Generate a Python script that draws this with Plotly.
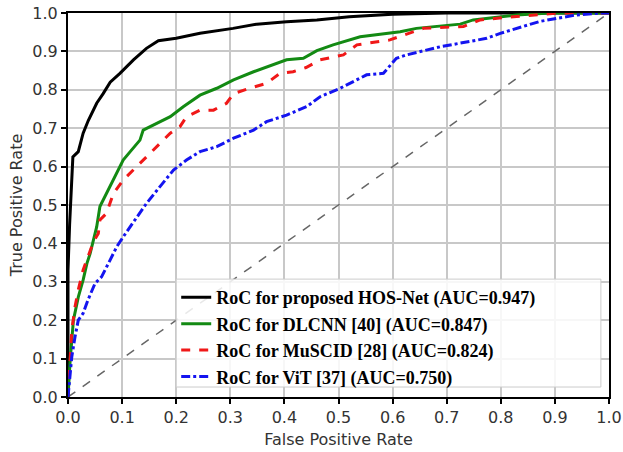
import plotly.graph_objects as go

# HOS-Net (proposed)
hos_fpr = [0, 0, 0.003, 0.006, 0.009, 0.019, 0.028, 0.0375, 0.053, 0.065, 0.078, 0.096, 0.121, 0.145, 0.167, 0.2, 0.244, 0.305, 0.349, 0.404, 0.46, 0.52, 0.6, 0.7, 1.0]
hos_tpr = [0, 0.33, 0.45, 0.55, 0.625, 0.639, 0.687, 0.72, 0.765, 0.79, 0.82, 0.843, 0.878, 0.908, 0.928, 0.934, 0.947, 0.96, 0.971, 0.977, 0.982, 0.99, 0.997, 1.0, 1.0]

# DLCNN [40]
dl_fpr = [0, 0.004, 0.01, 0.019, 0.028, 0.035, 0.041, 0.047, 0.053, 0.059, 0.078, 0.09, 0.102, 0.115, 0.133, 0.139, 0.164, 0.189, 0.213, 0.244, 0.275, 0.306, 0.343, 0.367, 0.404, 0.435, 0.46, 0.49, 0.54, 0.614, 0.644, 0.725, 0.749, 0.829, 0.891, 1.0]
dl_tpr = [0, 0.096, 0.2, 0.26, 0.305, 0.348, 0.374, 0.409, 0.443, 0.496, 0.548, 0.583, 0.617, 0.639, 0.669, 0.695, 0.713, 0.73, 0.756, 0.786, 0.804, 0.826, 0.847, 0.86, 0.878, 0.882, 0.902, 0.917, 0.938, 0.951, 0.96, 0.971, 0.982, 0.995, 1.0, 1.0]

# MuSCID [28]
mu_fpr = [0, 0.004, 0.007, 0.013, 0.019, 0.028, 0.037, 0.047, 0.056, 0.059, 0.071, 0.084, 0.102, 0.127, 0.145, 0.17, 0.189, 0.207, 0.219, 0.244, 0.269, 0.293, 0.306, 0.336, 0.367, 0.392, 0.416, 0.44, 0.466, 0.509, 0.534, 0.595, 0.632, 0.657, 0.731, 0.762, 0.829, 0.909, 1.0]
mu_tpr = [0, 0.114, 0.174, 0.235, 0.279, 0.331, 0.365, 0.404, 0.426, 0.461, 0.478, 0.53, 0.565, 0.6, 0.626, 0.661, 0.687, 0.704, 0.73, 0.747, 0.747, 0.765, 0.79, 0.804, 0.817, 0.843, 0.847, 0.858, 0.878, 0.891, 0.917, 0.93, 0.947, 0.96, 0.965, 0.982, 0.991, 1.0, 1.0]

# ViT [37]
vit_fpr = [0, 0.004, 0.007, 0.013, 0.019, 0.028, 0.037, 0.05, 0.062, 0.078, 0.09, 0.102, 0.118, 0.145, 0.17, 0.195, 0.219, 0.244, 0.275, 0.306, 0.343, 0.367, 0.404, 0.441, 0.466, 0.503, 0.552, 0.583, 0.607, 0.626, 0.688, 0.737, 0.774, 0.799, 0.829, 0.872, 0.903, 0.94, 0.983, 1.0]
vit_tpr = [0, 0.053, 0.105, 0.157, 0.2, 0.218, 0.253, 0.296, 0.313, 0.357, 0.391, 0.417, 0.45, 0.504, 0.548, 0.591, 0.617, 0.639, 0.652, 0.674, 0.695, 0.717, 0.734, 0.756, 0.782, 0.804, 0.839, 0.843, 0.882, 0.891, 0.912, 0.925, 0.934, 0.947, 0.96, 0.978, 0.986, 0.995, 1.0, 1.0]

chance = [0, 1]

names = [
    "RoC for proposed HOS-Net (AUC=0.947)",
    "RoC for DLCNN [40] (AUC=0.847)",
    "RoC for MuSCID [28] (AUC=0.824)",
    "RoC for ViT [37] (AUC=0.750)",
]

fig = go.Figure()
fig.add_trace(go.Scatter(x=chance, y=chance, mode="lines", showlegend=False,
                         line=dict(color="#666666", width=1.5, dash="dash")))
fig.add_trace(go.Scatter(x=hos_fpr, y=hos_tpr, mode="lines", name=names[0],
                         line=dict(color="black", width=3)))
fig.add_trace(go.Scatter(x=dl_fpr, y=dl_tpr, mode="lines", name=names[1],
                         line=dict(color="#138a13", width=3)))
fig.add_trace(go.Scatter(x=mu_fpr, y=mu_tpr, mode="lines", name=names[2],
                         line=dict(color="#f01818", width=3, dash="dash")))
fig.add_trace(go.Scatter(x=vit_fpr, y=vit_tpr, mode="lines", name=names[3],
                         line=dict(color="#1414f0", width=3, dash="dashdot")))

tickvals = [i / 10 for i in range(11)]
ticktext = [f"{v:.1f}" for v in tickvals]

axis_common = dict(
    range=[0, 1], tickvals=tickvals, ticktext=ticktext,
    showgrid=True, gridcolor="#c8c8c8", gridwidth=1.5,
    showline=True, linecolor="black", linewidth=2, mirror=True,
    ticks="outside", ticklen=5, tickwidth=1.5, tickcolor="black",
    tickfont=dict(family="DejaVu Sans", size=16, color="#333333"),
    zeroline=False, automargin=False,
)

# legend frame (box drawn wider than the entries, as in the reference)
fig.add_shape(type="rect", xref="paper", yref="paper",
              x0=0.2, x1=0.985, y0=0.026, y1=0.307, layer="above",
              fillcolor="rgba(255,255,255,0.85)", line=dict(color="#cccccc", width=1))

fig.update_layout(
    width=623, height=452,
    margin=dict(l=68, r=14, t=13, b=55),
    paper_bgcolor="white", plot_bgcolor="white",
    xaxis=dict(**axis_common, title=dict(text="False Positive Rate", standoff=8,
               font=dict(family="DejaVu Sans", size=16, color="#333333"))),
    yaxis=dict(**axis_common, title=dict(text="True Positive Rate", standoff=6,
               font=dict(family="DejaVu Sans", size=16, color="#333333"))),
    legend=dict(x=0.2, y=0.307, xanchor="left", yanchor="top",
                bgcolor="rgba(0,0,0,0)", borderwidth=0,
                font=dict(family="Liberation Serif", size=18, color="black", weight="bold"),
                itemwidth=30, tracegroupgap=0),
)

fig.write_html("out.html", config={"displayModeBar": False},
               post_script="document.body.style.margin='0';document.body.style.overflow='hidden';")
